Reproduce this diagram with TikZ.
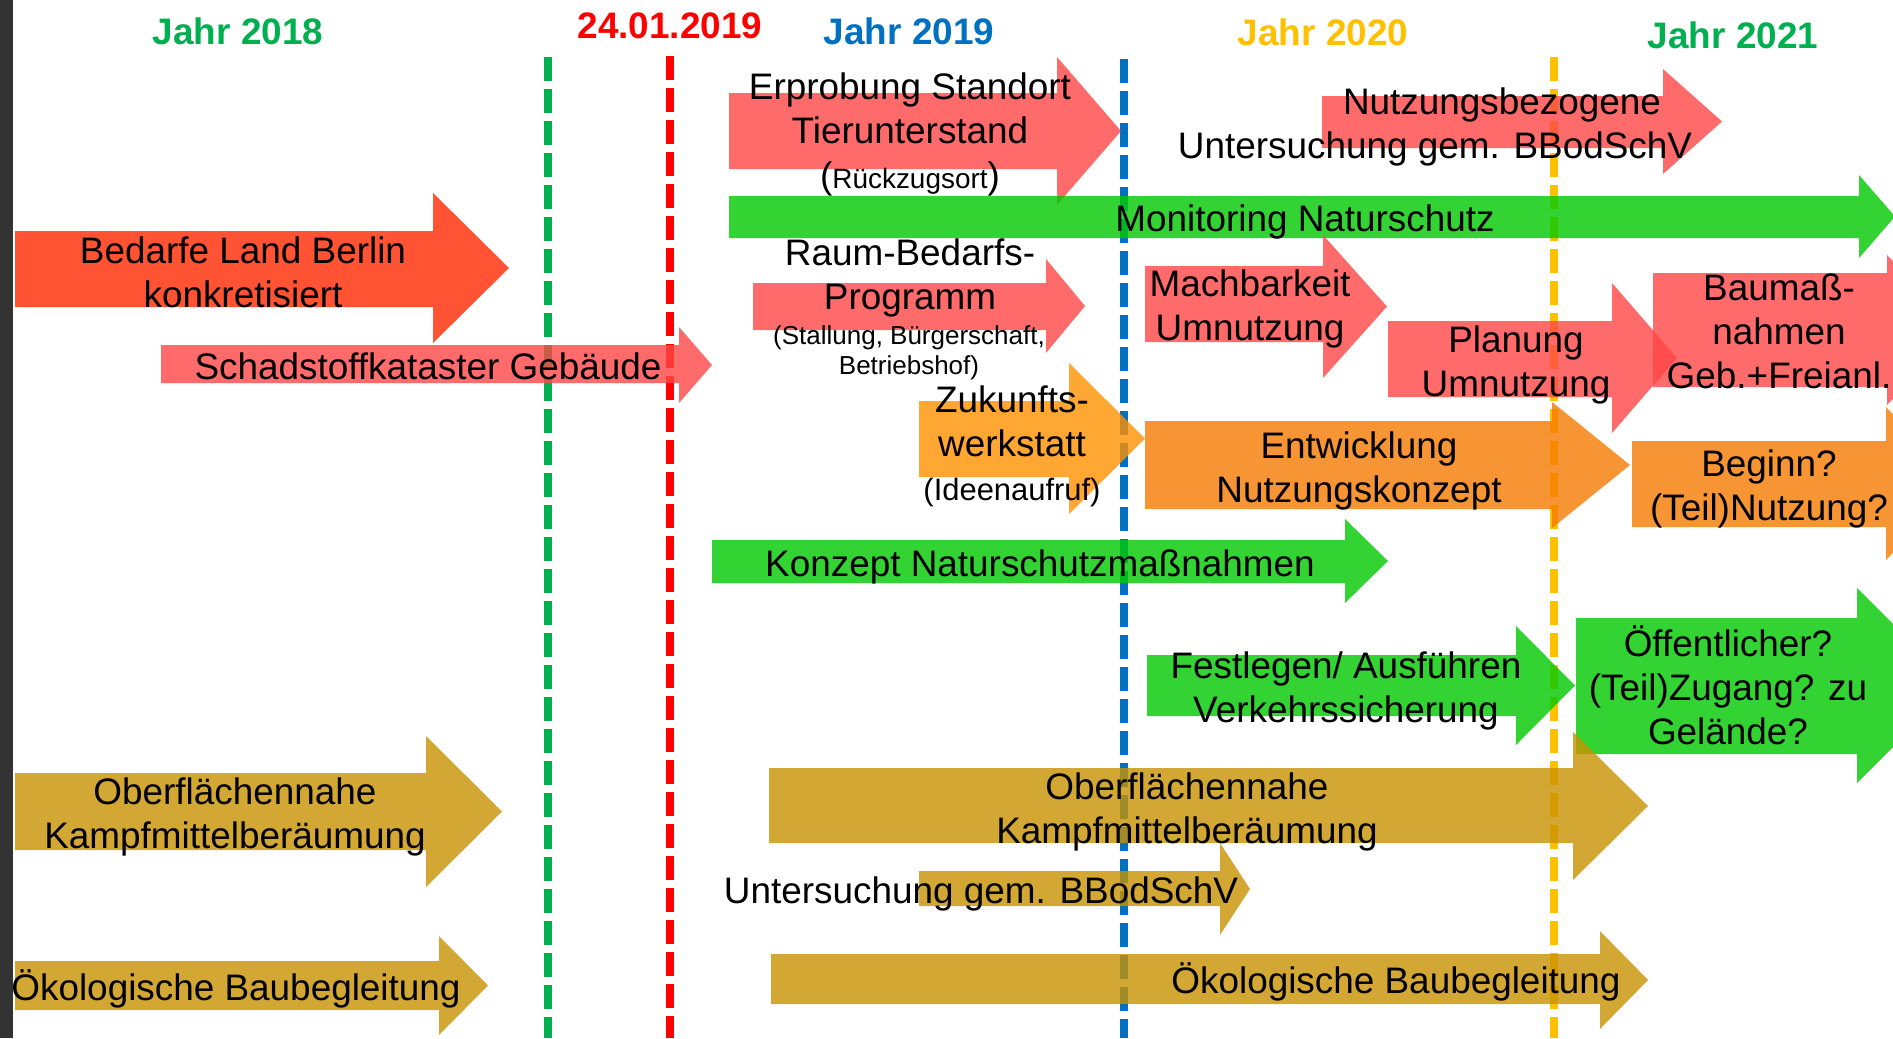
\documentclass[tikz,border=0pt]{standalone}
\usepackage{fontspec}
\setmainfont{Liberation Sans}
\definecolor{balkengrau}{HTML}{333333}
\definecolor{jahrgruen}{HTML}{00B050}
\definecolor{jahrblau}{HTML}{0070C0}
\definecolor{jahrgelb}{HTML}{FFC000}
\definecolor{datumrot}{HTML}{FF0000}
\definecolor{rotfarbe}{HTML}{FF2900}
\definecolor{lachsfarbe}{HTML}{FF4646}
\definecolor{gruenfarbe}{HTML}{00C900}
\definecolor{goldfarbe}{HTML}{C99200}
\definecolor{hellfarbe}{HTML}{FF9000}
\definecolor{orangefarbe}{HTML}{F67A00}
\newcommand{\gross}{\fontsize{21}{25}\selectfont}
\newcommand{\mittel}{\fontsize{17.6}{25}\selectfont}
\newcommand{\klein}{\fontsize{14.8}{17}\selectfont}
\newcommand{\pfeil}[8]{% farbe, links, oben, unten, kopf, spitze, kopf oben, kopf unten
 \pgfmathsetmacro{\Mitte}{(#7+#8)/2}
\fill[#1] (#2,#3)--(#5,#3)--(#5,#7)--(#6,\Mitte)--(#5,#8)--(#5,#4)--(#2,#4)--cycle;
}

\begin{document}
\begin{tikzpicture}[x=0.02cm,y=-0.02cm,
 txt/.style={font=\gross, align=center, inner sep=0pt},
 jahr/.style={font=\gross\bfseries, inner sep=0pt},
 trenn/.style={line width=0.16cm, dash pattern=on 0.48cm off 0.16cm},
 rotpfeil/.style={fill=rotfarbe, fill opacity=0.8},
 lachspfeil/.style={fill=lachsfarbe, fill opacity=0.8},
 gruenpfeil/.style={fill=gruenfarbe, fill opacity=0.8},
 goldpfeil/.style={fill=goldfarbe, fill opacity=0.8},
 hellpfeil/.style={fill=hellfarbe, fill opacity=0.8},
 orangepfeil/.style={fill=orangefarbe, fill opacity=0.8}]
\clip (0,0) rectangle (1893,1038);
\fill[white] (0,0) rectangle (1893,1038);
\fill[balkengrau] (0,0) rectangle (13,1038);

% Jahre
\node[jahr,jahrgruen] (jahr2018) at (238,31) {Jahr 2018};
\node[jahr,datumrot] (stichtag) at (670,26) {24.01.2019};
\node[jahr,jahrblau] (jahr2019) at (909,31) {Jahr 2019};
\node[jahr,jahrgelb] (jahr2020) at (1323,32) {Jahr 2020};
\node[jahr,jahrgruen] (jahr2021) at (1733,35) {Jahr 2021};

\draw[trenn,jahrgruen] (548,57)--(548,1038);
\draw[trenn,datumrot] (670,56)--(670,1038);
\draw[trenn,jahrblau] (1124,59)--(1124,1038);
\draw[trenn,jahrgelb] (1554,57)--(1554,1038);

% Pfeile
\pfeil{rotpfeil}{15}{231}{307}{433}{509}{193}{343}
\pfeil{lachspfeil}{161}{345}{383}{679}{712}{327}{403}
\pfeil{lachspfeil}{729}{93}{169}{1057}{1121}{57}{205}
\pfeil{lachspfeil}{1322}{96}{148}{1663}{1722}{69}{174}
\pfeil{gruenpfeil}{729}{196}{238}{1859}{1895}{175}{258}
\pfeil{lachspfeil}{753}{283}{330}{1046}{1085}{259}{353}
\pfeil{lachspfeil}{1145}{266}{342}{1323}{1387}{235}{378}
\pfeil{lachspfeil}{1388}{321}{397}{1612}{1677}{283}{433}
\pfeil{lachspfeil}{1653}{273}{387}{1887}{1960}{255}{405}
\pfeil{hellpfeil}{919}{401}{477}{1069}{1145}{363}{514}
\pfeil{orangepfeil}{1145}{421}{509}{1552}{1630}{402}{528}
\pfeil{orangepfeil}{1632}{441}{527}{1886}{1960}{407}{560}
\pfeil{gruenpfeil}{712}{540}{583}{1345}{1388}{519}{603}
\pfeil{gruenpfeil}{1147}{655}{716}{1516}{1575}{626}{745}
\pfeil{gruenpfeil}{1576}{618}{754}{1857}{1955}{588}{783}
\pfeil{goldpfeil}{15}{773}{850}{426}{502}{736}{887}
\pfeil{goldpfeil}{15}{961}{1010}{439}{488}{936}{1035}
\pfeil{goldpfeil}{769}{768}{843}{1573}{1648}{732}{880}
\pfeil{goldpfeil}{919}{871}{906}{1220}{1250}{843}{935}
\pfeil{goldpfeil}{771}{954}{1004}{1600}{1648}{931}{1029}

% Texte
\node[txt] (bedarfe) at (243,272) {Bedarfe Land Berlin\\konkretisiert};
\node[txt] (schadstoff) at (428,366) {Schadstoffkataster Gebäude};
\node[txt] (erprobung) at (910,108) {Erprobung Standort\\Tierunterstand};
\node[txt] (rueckzug) at (910,179) {({\fontsize{15.9}{17}\selectfont Rückzugsort})};
\node[txt] (nutzung) at (1435,127) {\hspace*{2.68cm}Nutzungsbezogene\\Untersuchung gem. BBodSchV};
\node[txt] (monitoring) at (1305,222) {Monitoring Naturschutz};
\node[txt] (raum) at (910,278) {Raum-Bedarfs-\\Programm};
\node[txt,font=\klein] (raumzusatz) at (909,353) {(Stallung, Bürgerschaft,\\Betriebshof)};
\node[txt] (machbarkeit) at (1250,309) {Machbarkeit\\Umnutzung};
\node[txt] (planung) at (1516,365) {Planung\\Umnutzung};
\node[txt] (baumass) at (1779,331) {Baumaß-\\nahmen\\Geb.+Freianl.};
\node[txt] (zukunft) at (1012,446) {Zukunfts-\\werkstatt\\{\mittel(Ideenaufruf)}};
\node[txt] (entwicklung) at (1359,471) {Entwicklung\\Nutzungskonzept};
\node[txt] (beginn) at (1769,489) {Beginn?\\(Teil)Nutzung?};
\node[txt] (konzept) at (1040,567) {Konzept Naturschutzmaßnahmen};
\node[txt] (festlegen) at (1346,691) {Festlegen/ Ausführen\\Verkehrssicherung};
\node[txt] (oeffentlich) at (1728,685) {Öffentlicher?\\(Teil)Zugang? zu\\Gelände?};
\node[txt] (kampfmittel1) at (235,817) {Oberflächennahe\\Kampfmittelberäumung};
\node[txt] (baubegleitung1) at (236,989) {Ökologische Baubegleitung};
\node[txt] (kampfmittel2) at (1187,812) {Oberflächennahe\\Kampfmittelberäumung};
\node[txt] (untersuchung) at (981,894) {Untersuchung gem. BBodSchV};
\node[txt] (baubegleitung2) at (1396,982) {Ökologische Baubegleitung};
\end{tikzpicture}
\end{document}
